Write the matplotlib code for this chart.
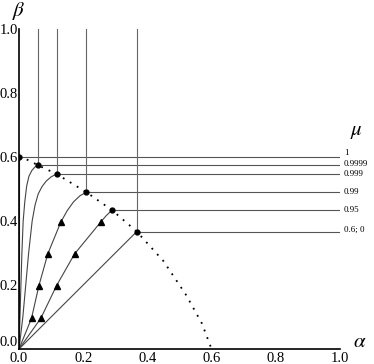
import matplotlib
matplotlib.use("Agg")
import matplotlib.pyplot as plt
import numpy as np

plt.rcParams['mathtext.fontset'] = 'stix'
plt.rcParams['font.family'] = ['Liberation Serif', 'DejaVu Serif']

# boundary (dotted) curve
edge_a = [0.0, 0.03, 0.058, 0.117, 0.21, 0.29, 0.367, 0.45, 0.52, 0.57, 0.6]
edge_b = [0.6, 0.59, 0.575, 0.547, 0.49, 0.434, 0.367, 0.275, 0.17, 0.08, 0.0]

# trajectories, one per mu
mu_labels = ['1', '0.9999', '0.999', '0.99', '0.95', '0.6; 0']
traj_a = [
    [0.0, 0.0],
    [0.0, 0.003, 0.006, 0.009, 0.013, 0.018, 0.024, 0.031, 0.040, 0.049, 0.058],
    [0.0, 0.012, 0.021, 0.030, 0.041, 0.050, 0.060, 0.072, 0.085, 0.100, 0.117],
    [0.0, 0.039, 0.062, 0.090, 0.130, 0.150, 0.170, 0.190, 0.21],
    [0.0, 0.068, 0.117, 0.173, 0.254, 0.272, 0.29],
    [0.0, 0.367],
]
traj_b = [
    [0.0, 0.6],
    [0.0, 0.1, 0.2, 0.3, 0.4, 0.46, 0.51, 0.54, 0.558, 0.568, 0.575],
    [0.0, 0.1, 0.2, 0.3, 0.4, 0.45, 0.485, 0.508, 0.525, 0.538, 0.547],
    [0.0, 0.096, 0.198, 0.298, 0.396, 0.432, 0.460, 0.479, 0.49],
    [0.0, 0.096, 0.198, 0.297, 0.396, 0.417, 0.434],
    [0.0, 0.367],
]
has_vline = [False, True, True, True, False, True]
# arrow markers on two trajectories
arrow_a = [0.039, 0.062, 0.090, 0.130, 0.068, 0.117, 0.173, 0.254]
arrow_b = [0.096, 0.198, 0.298, 0.396, 0.096, 0.198, 0.297, 0.396]
label_y = [0.612, 0.577, 0.548, 0.49, 0.434, 0.372]

fig = plt.figure(figsize=(3.74, 3.64), dpi=100)
ax = fig.add_axes([0.0508, 0.0412, 0.858, 0.879])

ax.plot(edge_a, edge_b, color='black', linestyle=(0, (1, 3.5)), lw=1.3, zorder=3)

for i in range(len(mu_labels)):
    a = traj_a[i]
    b = traj_b[i]
    ax.plot(a, b, color='#444444', lw=0.8)
    ea, eb = a[-1], b[-1]
    ax.plot([ea, 1.0], [eb, eb], color='#555555', lw=0.8)
    if has_vline[i]:
        ax.plot([ea, ea], [eb, 1.0], color='#666666', lw=0.8)
    ax.plot([ea], [eb], 'o', color='black', ms=3.5, zorder=4)
    ax.text(1.012, label_y[i], mu_labels[i], fontsize=6.5, va='center',
            ha='left', clip_on=False)

ax.plot(arrow_a, arrow_b, '^', color='black', ms=4.2, ls='none', zorder=4)

ax.set_xlim(0, 1.0)
ax.set_ylim(0, 1.0)
for s in ['top', 'right']:
    ax.spines[s].set_visible(False)
ax.spines['left'].set_linewidth(1.2)
ax.spines['bottom'].set_linewidth(1.2)
ax.set_xticks([0, 0.2, 0.4, 0.6, 0.8, 1.0])
ax.set_yticks([0, 0.2, 0.4, 0.6, 0.8, 1.0])
ax.set_xticklabels(['0.0', '0.2', '0.4', '0.6', '0.8', '1.0'])
ax.set_yticklabels(['0.0', '0.2', '0.4', '0.6', '0.8', '1.0'])
ax.tick_params(length=0, labelsize=10.5)
ax.tick_params(axis='y', pad=1)
ax.tick_params(axis='x', pad=2)
ax.get_yticklabels()[0].set_va('bottom')

ax.text(1.03, 0.68, r'$\mu$', fontsize=15, ha='left', va='center', clip_on=False)
ax.text(1.04, 0.02, r'$\alpha$', fontsize=15, ha='left', va='center', clip_on=False)
ax.text(0.0, 1.055, r'$\beta$', fontsize=15, ha='center', va='center', clip_on=False)

fig.savefig('out.png', dpi=100)
